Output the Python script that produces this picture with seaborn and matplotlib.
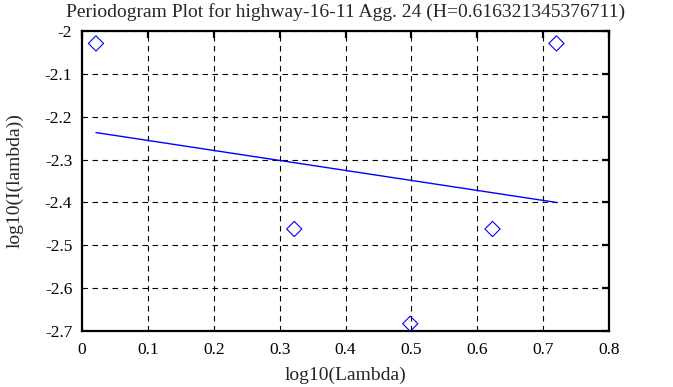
"""
Periodogram plot - highway-16-11 Agg. 24
"""

import numpy as np
import pandas as pd
import matplotlib
matplotlib.use('Agg')
import matplotlib.pyplot as plt
import seaborn as sns

# Puntos del periodograma (log10)
log_lambda = [0.0212, 0.3222, 0.4983, 0.6232, 0.7202]
log_I = [-2.029, -2.462, -2.683, -2.462, -2.029]

# Recta ajustada (extremos)
fit_x = [0.0212, 0.7202]
fit_y = [-2.237, -2.400]

titulo = 'Periodogram Plot for highway-16-11 Agg. 24 (H=0.616321345376711)'
x_ticks = [0, 0.1, 0.2, 0.3, 0.4, 0.5, 0.6, 0.7, 0.8]
y_ticks = [-2.7, -2.6, -2.5, -2.4, -2.3, -2.2, -2.1, -2]

sns.set_style('white')
plt.rcParams['font.family'] = ['Liberation Serif', 'DejaVu Serif']

df_pts = pd.DataFrame({'x': log_lambda, 'y': log_I})
df_fit = pd.DataFrame({'x': fit_x, 'y': fit_y})

fig = plt.figure(figsize=(6.73, 3.87), dpi=100)
ax = fig.add_axes([82 / 673, 1 - 331 / 387, 527 / 673, 300 / 387])

sns.lineplot(data=df_fit, x='x', y='y', ax=ax, color='#0000ff', linewidth=1.0)
sns.scatterplot(data=df_pts, x='x', y='y', ax=ax, marker='D', s=60,
                facecolor='none', edgecolor='#0000ff', linewidth=0.8, zorder=3)

ax.set_xlim(0, 0.8)
ax.set_ylim(-2.7, -2)
ax.set_xticks(x_ticks)
ax.set_xticklabels([f'{t:g}' for t in x_ticks])
ax.set_yticks(y_ticks)
ax.set_yticklabels([f'{t:g}' for t in y_ticks])

ax.grid(True, color='black', linestyle=(0, (5, 4)), linewidth=0.8)
for s in ax.spines.values():
    s.set_visible(True)
    s.set_color('black')
    s.set_linewidth(1.6)

ax.tick_params(direction='in', length=5, width=1.6, top=True, right=True,
               labelsize=12.5, colors='black')
ax.tick_params(axis='x', pad=8)
ax.tick_params(axis='y', pad=7)

ax.set_title(titulo, fontsize=14, pad=10)
ax.set_xlabel('log10(Lambda)', fontsize=14, labelpad=6)
ax.set_ylabel('log10(I(lambda))', fontsize=14, labelpad=15)

fig.savefig('out.png', dpi=100)
